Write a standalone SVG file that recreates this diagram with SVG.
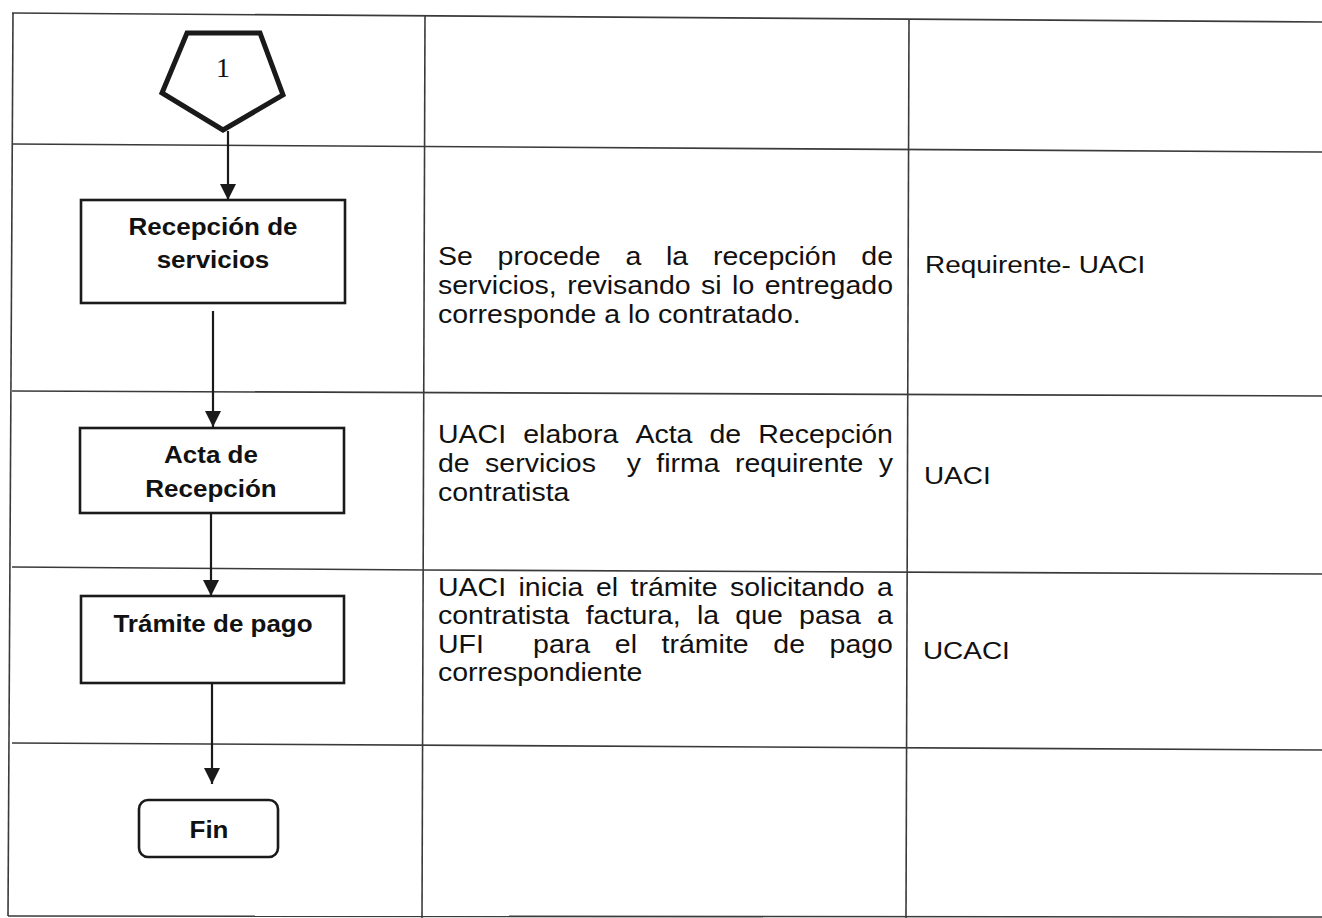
<svg xmlns="http://www.w3.org/2000/svg" width="1322" height="918" viewBox="0 0 1322 918">
<style>
.grid{stroke:#3a3a3a;stroke-width:1.6;fill:none}
.box{fill:#fff;stroke:#1a1a1a;stroke-width:2.6}
.lbl{font-family:"Liberation Sans",Arial,sans-serif;font-weight:bold;font-size:23px;fill:#111;text-anchor:middle}
.desc{font-family:"Liberation Sans",Arial,sans-serif;font-size:25px;fill:#111}
.resp{font-family:"Liberation Sans",Arial,sans-serif;font-size:24.5px;fill:#111}
.conn{stroke:#1a1a1a;stroke-width:2.2;fill:none}
</style>
<defs>
<marker id="ah" markerUnits="userSpaceOnUse" markerWidth="18" markerHeight="18" refX="16" refY="8" orient="auto">
<path d="M0,0 L16,8 L0,16 Z" fill="#1a1a1a"/>
</marker>
</defs>
<rect width="1322" height="918" fill="#fff"/>
<g id="table">
<line class="grid" x1="12" y1="13" x2="1322" y2="22"/>
<line class="grid" x1="12" y1="144" x2="1322" y2="152"/>
<line class="grid" x1="12" y1="391" x2="1322" y2="396"/>
<polyline class="grid" points="12,567 424,570 1322,574"/>
<line class="grid" x1="12" y1="743" x2="1322" y2="750"/>
<line class="grid" x1="8" y1="916" x2="1322" y2="917"/>
<line class="grid" x1="13" y1="13" x2="8" y2="916"/>
<line class="grid" x1="425" y1="15" x2="422" y2="918"/>
<line class="grid" x1="909" y1="20" x2="906" y2="918"/>
</g>
<g id="connectors">
<line class="conn" x1="228" y1="131" x2="228" y2="200" marker-end="url(#ah)"/>
<line class="conn" x1="213" y1="311" x2="213" y2="427" marker-end="url(#ah)"/>
<line class="conn" x1="211" y1="514" x2="211" y2="596" marker-end="url(#ah)"/>
<line class="conn" x1="212" y1="684" x2="212" y2="784" marker-end="url(#ah)"/>
</g>
<g id="node-1">
<polygon points="187,33 260,33 283,95 223,130 162,93" fill="#fff" stroke="#1a1a1a" stroke-width="5" stroke-linejoin="miter"/>
<text x="223" y="77" font-family="'Liberation Serif','Times New Roman',serif" font-size="28" fill="#111" text-anchor="middle">1</text>
</g>
<g id="node-recepcion">
<rect class="box" x="81" y="200" width="264" height="103"/>
<g transform="scale(1.13,1)">
<text class="lbl" x="188.5" y="235">Recepción de</text>
<text class="lbl" x="188.5" y="268">servicios</text>
</g>
</g>
<g id="node-acta">
<rect class="box" x="80" y="428" width="264" height="85"/>
<g transform="scale(1.13,1)">
<text class="lbl" x="186.73" y="463">Acta de</text>
<text class="lbl" x="186.73" y="497">Recepción</text>
</g>
</g>
<g id="node-tramite">
<rect class="box" x="81" y="596" width="263" height="87"/>
<g transform="scale(1.13,1)">
<text class="lbl" x="188.5" y="632">Trámite de pago</text>
</g>
</g>
<g id="node-fin">
<rect class="box" x="139" y="800" width="139" height="57" rx="9"/>
<g transform="scale(1.13,1)">
<text class="lbl" x="184.96" y="838">Fin</text>
</g>
</g>
<g id="desc-1" transform="scale(1.14,1)">
<text class="desc" y="265"><tspan x="384.21">Se</tspan><tspan x="436.49">procede</tspan><tspan x="548.6">a</tspan><tspan x="584.21">la</tspan><tspan x="625.44">recepción</tspan><tspan x="755.53">de</tspan></text>
<text class="desc" y="294"><tspan x="384.21">servicios,</tspan><tspan x="497.54">revisando</tspan><tspan x="615">si</tspan><tspan x="642.19">lo</tspan><tspan x="670.79">entregado</tspan></text>
<text class="desc" x="384.21" y="323">corresponde a lo contratado.</text>
</g>
<g id="desc-2" transform="scale(1.14,1)">
<text class="desc" y="443"><tspan x="384.21">UACI</tspan><tspan x="458.95">elabora</tspan><tspan x="557.37">Acta</tspan><tspan x="622.37">de</tspan><tspan x="665.18">Recepción</tspan></text>
<text class="desc" y="472"><tspan x="384.21">de</tspan><tspan x="425.53">servicios</tspan><tspan x="549.74">y</tspan><tspan x="575.7">firma</tspan><tspan x="644.74">requirente</tspan><tspan x="770.79">y</tspan></text>
<text class="desc" x="384.21" y="501">contratista</text>
</g>
<g id="desc-3" transform="scale(1.14,1)">
<text class="desc" y="596"><tspan x="384.21">UACI</tspan><tspan x="454.82">inicia</tspan><tspan x="522.72">el</tspan><tspan x="553.07">trámite</tspan><tspan x="640.35">solicitando</tspan><tspan x="769.39">a</tspan></text>
<text class="desc" y="624"><tspan x="384.21">contratista</tspan><tspan x="513.77">factura,</tspan><tspan x="611.32">la</tspan><tspan x="645">que</tspan><tspan x="700.96">pasa</tspan><tspan x="769.39">a</tspan></text>
<text class="desc" y="653"><tspan x="384.21">UFI</tspan><tspan x="467.63">para</tspan><tspan x="539.3">el</tspan><tspan x="580.35">trámite</tspan><tspan x="678.33">de</tspan><tspan x="727.72">pago</tspan></text>
<text class="desc" x="384.21" y="681">correspondiente</text>
</g>
<g id="resp" transform="scale(1.14,1)">
<text class="resp" x="811.4" y="273">Requirente- UACI</text>
<text class="resp" x="810.5" y="484">UACI</text>
<text class="resp" x="809.6" y="659">UCACI</text>
</g>
</svg>
